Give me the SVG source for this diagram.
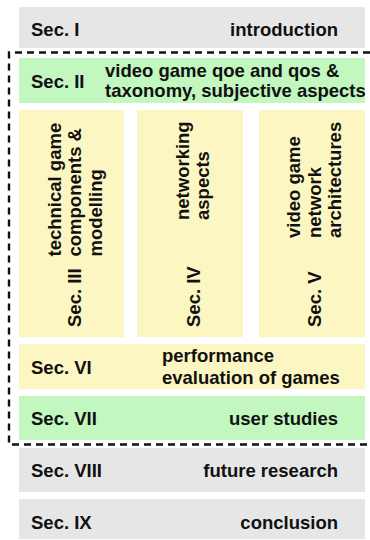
<svg xmlns="http://www.w3.org/2000/svg" width="370" height="540" viewBox="0 0 370 540">
<style>
.grey{fill:#e6e6e6}
.green{fill:#c2f7c0}
.yellow{fill:#fcf7c2}
text{font-family:"Liberation Sans",Arial,Helvetica,sans-serif;font-weight:bold;font-size:18.5px;fill:#111111}
.end{text-anchor:end}
.dash{fill:none;stroke:#111;stroke-width:2.4;stroke-dasharray:7 5}
</style>
<rect width="370" height="540" fill="#ffffff"/>
<g id="sec1">
<rect class="grey" x="19" y="7" width="346" height="41"/>
<text x="31" y="36">Sec. I</text>
<text class="end" x="338" y="36">introduction</text>
</g>
<g id="sec2">
<rect class="green" x="19" y="58" width="346" height="45"/>
<text x="31" y="88">Sec. II</text>
<text x="105" y="76.5">video game qoe and qos &amp;</text>
<text x="105" y="97">taxonomy, subjective aspects</text>
</g>
<g id="sec3">
<rect class="yellow" x="19" y="110" width="105" height="227"/>
<text transform="translate(60.5,256.5) rotate(-90)"><tspan x="0" dy="0">technical game</tspan><tspan x="0" dy="20.5">components &amp;</tspan><tspan x="0" dy="20.5">modelling</tspan></text>
<text transform="translate(80.5,327) rotate(-90)">Sec. III</text>
</g>
<g id="sec4">
<rect class="yellow" x="137" y="110" width="106" height="227"/>
<text transform="translate(188.5,220) rotate(-90)"><tspan x="0" dy="0">networking</tspan><tspan x="0" dy="20.5">aspects</tspan></text>
<text transform="translate(199.5,327) rotate(-90)">Sec. IV</text>
</g>
<g id="sec5">
<rect class="yellow" x="259" y="110" width="106" height="227"/>
<text transform="translate(300,238) rotate(-90)"><tspan x="0" dy="0">video game</tspan><tspan x="0" dy="20.5">network</tspan><tspan x="0" dy="20.5">architectures</tspan></text>
<text transform="translate(320.5,327) rotate(-90)">Sec. V</text>
</g>
<g id="sec6">
<rect class="yellow" x="19" y="344" width="346" height="45"/>
<text x="31" y="374">Sec. VI</text>
<text x="162" y="362">performance</text>
<text x="162" y="384">evaluation of games</text>
</g>
<g id="sec7">
<rect class="green" x="19" y="396" width="346" height="44"/>
<text x="31" y="424.5">Sec. VII</text>
<text class="end" x="338" y="424.5">user studies</text>
</g>
<g id="sec8">
<rect class="grey" x="19" y="448" width="346" height="44"/>
<text x="31" y="476.5">Sec. VIII</text>
<text class="end" x="338" y="476.5">future research</text>
</g>
<g id="sec9">
<rect class="grey" x="19" y="499" width="346" height="40"/>
<text x="31" y="529">Sec. IX</text>
<text class="end" x="338" y="529">conclusion</text>
</g>
<g id="connectors">
<path class="dash" d="M370,52.5 H9 V444.5 H370"/>
</g>
</svg>
